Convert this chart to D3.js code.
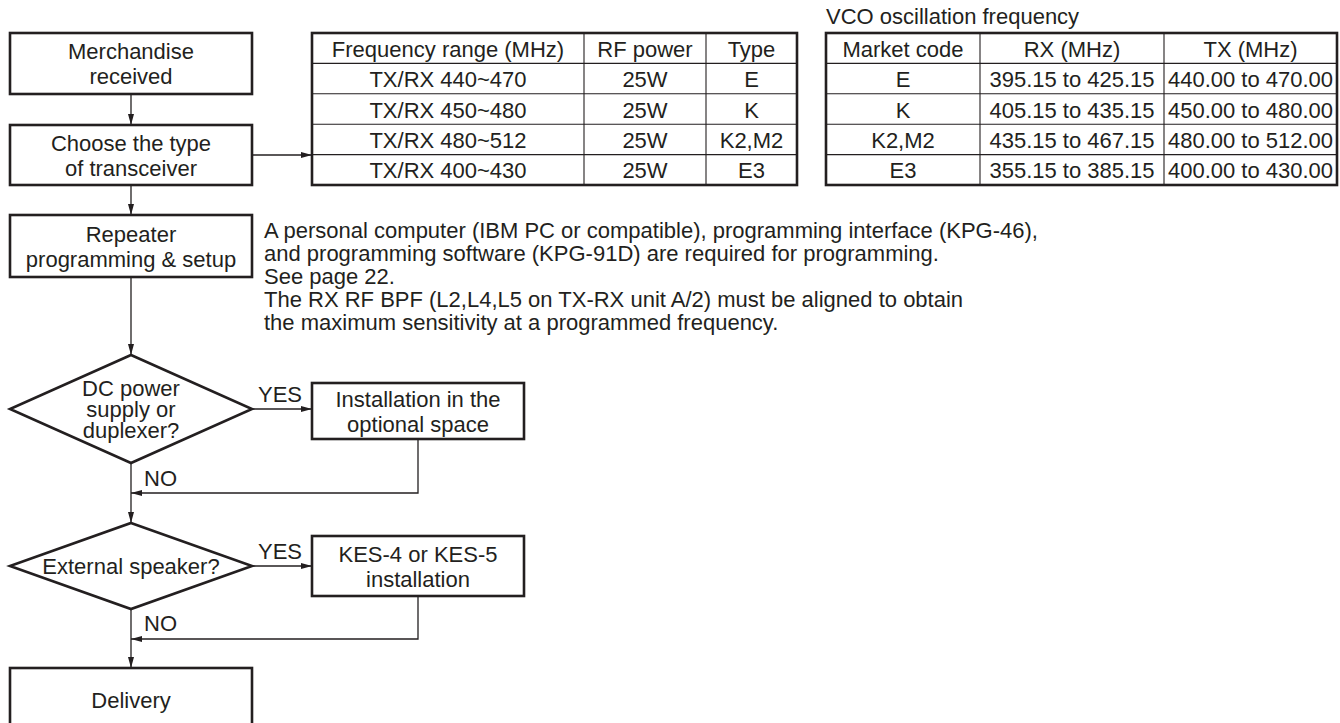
<!DOCTYPE html>
<html>
<head>
<meta charset="utf-8">
<script src="https://cdn.jsdelivr.net/npm/d3@7"></script>
<style>
  body { margin: 0; background: #fff; }
  svg text { font-family: "Liberation Sans", Arial, sans-serif; fill: #231f20; }
</style>
</head>
<body>
<div id="chart"></div>
<script>
// table 1: type of transceiver
const freqHeaders = ["Frequency range (MHz)", "RF power", "Type"];
const freqRanges = ["TX/RX 440~470", "TX/RX 450~480", "TX/RX 480~512", "TX/RX 400~430"];
const rfPower = ["25W", "25W", "25W", "25W"];
const types = ["E", "K", "K2,M2", "E3"];

// table 2: VCO oscillation frequency
const vcoTitle = "VCO oscillation frequency";
const vcoHeaders = ["Market code", "RX (MHz)", "TX (MHz)"];
const marketCodes = ["E", "K", "K2,M2", "E3"];
const rxRanges = ["395.15 to 425.15", "405.15 to 435.15", "435.15 to 467.15", "355.15 to 385.15"];
const txRanges = ["440.00 to 470.00", "450.00 to 480.00", "480.00 to 512.00", "400.00 to 430.00"];

// note next to the programming step
const note = [
    "A personal computer (IBM PC or compatible), programming interface (KPG-46),",
    "and programming software (KPG-91D) are required for programming.",
    "See page 22.",
    "The RX RF BPF (L2,L4,L5 on TX-RX unit A/2) must be aligned to obtain",
    "the maximum sensitivity at a programmed frequency."
];

const width = 1340, height = 723;
const ink = "#231f20";
const fs = 22;

const svg = d3.select("#chart").append("svg")
    .attr("width", width)
    .attr("height", height)
    .style("font-size", fs + "px");

svg.append("defs").append("marker")
    .attr("id", "arr")
    .attr("viewBox", "0 0 11 6")
    .attr("refX", 11).attr("refY", 3)
    .attr("markerWidth", 11).attr("markerHeight", 6)
    .attr("markerUnits", "userSpaceOnUse")
    .attr("orient", "auto")
    .append("path").attr("d", "M0,0L11,3L0,6Z").attr("fill", ink);

function multiline(x, y, lines, lh) {
    const t = svg.append("text").attr("text-anchor", "middle").attr("dominant-baseline", "central");
    lines.forEach((l, i) => t.append("tspan").attr("x", x).attr("y", y + (i - (lines.length - 1) / 2) * lh).text(l));
}

function box(x0, y0, w, h, lines, ty) {
    svg.append("rect").attr("x", x0).attr("y", y0).attr("width", w).attr("height", h)
        .attr("fill", "none").attr("stroke", ink).attr("stroke-width", 2.6);
    multiline(x0 + w / 2, ty == null ? y0 + h / 2 : ty, lines, 25);
}

function diamond(cx, cy, hw, hh, lines) {
    svg.append("path").attr("d", `M${cx},${cy - hh}L${cx + hw},${cy}L${cx},${cy + hh}L${cx - hw},${cy}Z`)
        .attr("fill", "none").attr("stroke", ink).attr("stroke-width", 2.6);
    multiline(cx, cy, lines, 21);
}

function link(points) {
    svg.append("path").attr("d", d3.line()(points))
        .attr("fill", "none").attr("stroke", ink).attr("stroke-width", 1.3)
        .attr("marker-end", "url(#arr)");
}

function label(x, y, txt) {
    svg.append("text").attr("x", x).attr("y", y).text(txt);
}

// tables: rows placed with a band scale
function table(colEdges, y0, y1, headers, columns) {
    const rows = d3.range(columns[0].length + 1);
    const y = d3.scaleBand().domain(rows).range([y0, y1]);
    const g = svg.append("g");
    const xl = colEdges[0], xr = colEdges[colEdges.length - 1];
    rows.slice(1).forEach(r => g.append("line").attr("x1", xl).attr("x2", xr)
        .attr("y1", y(r)).attr("y2", y(r)).attr("stroke", ink).attr("stroke-width", 1.1));
    colEdges.slice(1, -1).forEach(c => g.append("line").attr("x1", c).attr("x2", c)
        .attr("y1", y0).attr("y2", y1).attr("stroke", ink).attr("stroke-width", 1.1));
    g.append("rect").attr("x", xl).attr("y", y0).attr("width", xr - xl).attr("height", y1 - y0)
        .attr("fill", "none").attr("stroke", ink).attr("stroke-width", 2.6);
    headers.forEach((h, c) => {
        const xm = (colEdges[c] + colEdges[c + 1]) / 2;
        [h].concat(columns[c]).forEach((v, i) => g.append("text")
            .attr("x", xm).attr("y", y(i) + y.bandwidth() / 2 + 1)
            .attr("text-anchor", "middle").attr("dominant-baseline", "central").text(v));
    });
}

table([312, 584, 706, 797], 33, 185, freqHeaders, [freqRanges, rfPower, types]);
table([826, 980, 1164, 1337], 33, 185, vcoHeaders, [marketCodes, rxRanges, txRanges]);
svg.append("text").attr("x", 826).attr("y", 24).text(vcoTitle);

// flow column
const cx = 131, bx = 10, bw = 242, sx = 312, sw = 212, rx = sx + sw / 2;

box(bx, 33, bw, 61, ["Merchandise", "received"]);
link([[cx, 94], [cx, 125]]);
box(bx, 125, bw, 60, ["Choose the type", "of transceiver"]);
link([[252, 155], [312, 155]]);
link([[cx, 185], [cx, 215]]);
box(bx, 215, bw, 62, ["Repeater", "programming & setup"]);

const nt = svg.append("text").attr("dominant-baseline", "central");
note.forEach((l, i) => nt.append("tspan").attr("x", 264).attr("y", 230 + i * 23).text(l));

link([[cx, 277], [cx, 355]]);
diamond(cx, 409, 121, 54, ["DC power", "supply or", "duplexer?"]);
link([[252, 409], [sx, 409]]);
label(258, 402, "YES");
box(sx, 383, sw, 56, ["Installation in the", "optional space"], 411);
link([[rx, 439], [rx, 493], [cx, 493]]);
label(144, 486, "NO");

link([[cx, 463], [cx, 523]]);
diamond(cx, 566, 121, 43, ["External speaker?"]);
link([[252, 566], [sx, 566]]);
label(258, 559, "YES");
box(sx, 536, sw, 60, ["KES-4 or KES-5", "installation"]);
link([[rx, 596], [rx, 639], [cx, 639]]);
label(144, 631, "NO");

link([[cx, 609], [cx, 668]]);
box(bx, 668, bw, 70, ["Delivery"], 700);
</script>
</body>
</html>
